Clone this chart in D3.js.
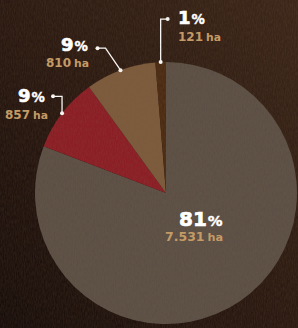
<!DOCTYPE html>
<html><head><meta charset="utf-8">
<script src="https://cdn.jsdelivr.net/npm/d3@7"></script>
<style>html,body{margin:0;padding:0;background:#2a1a12;overflow:hidden}svg{display:block}</style>
</head><body>
<script>
const categories = ["A", "B", "C", "D"];
const hectares = [7531, 857, 810, 121];
const percents = [81, 9, 9, 1];
const colors = ["#5b4f45", "#8b1d25", "#7c5a3c", "#4a2b12"];

const W = 298, H = 328, cx = 166, cy = 193, R = 131;
const svg = d3.select("body").append("svg").attr("width", W).attr("height", H);
const defs = svg.append("defs");
const g0 = defs.append("linearGradient").attr("id","bg").attr("x1","0").attr("y1","1").attr("x2","1").attr("y2","0");
g0.append("stop").attr("offset","0").attr("stop-color","#170d0a");
g0.append("stop").attr("offset","0.5").attr("stop-color","#2a1911");
g0.append("stop").attr("offset","1").attr("stop-color","#3b2619");
const f = defs.append("filter").attr("id","noise").attr("x","0").attr("y","0").attr("width","100%").attr("height","100%");
f.append("feTurbulence").attr("type","fractalNoise").attr("baseFrequency","0.9 0.25").attr("numOctaves",3).attr("seed",4).attr("result","n");
f.append("feColorMatrix").attr("in","n").attr("type","matrix")
 .attr("values","0 0 0 0 0.25  0 0 0 0 0.15  0 0 0 0 0.08  0 0 0 0.45 -0.1");
svg.append("rect").attr("width",W).attr("height",H).attr("fill","url(#bg)");

const fmt = d3.formatLocale({decimal:",", thousands:".", grouping:[3], currency:["",""]}).format(",d");

const pie = d3.pie().sort(null).value(d => d)(hectares);
const arc = d3.arc().innerRadius(0).outerRadius(R);
const gp = svg.append("g").attr("transform", `translate(${cx},${cy})`);
gp.selectAll("path").data(pie).join("path").attr("d", arc).attr("fill", (d,i) => colors[i]);
svg.append("rect").attr("width",W).attr("height",H).attr("filter","url(#noise)").attr("opacity",0.55);

const edge = d => { const a = (d.startAngle + d.endAngle)/2; return [Math.sin(a)*R, -Math.cos(a)*R]; };
const leaders = [
  null,
  {dot:[-9,-17], type:"elbow"},
  {dot:[-23,-22], type:"diag"},
  {dot:[7,-43], type:"elbow"}
];
const white = "#ffffff", tan = "#c49b66";
pie.forEach((d,i) => {
  const L = leaders[i]; if (!L) return;
  const [ex, ey] = edge(d);
  const dx = ex + L.dot[0], dy = ey + L.dot[1];
  let path;
  if (L.type === "elbow") path = `M${ex},${ey}L${ex},${dy}L${dx},${dy}`;
  else path = `M${ex},${ey}L${dx+8},${dy}L${dx},${dy}`;
  gp.append("path").attr("d", path).attr("fill","none").attr("stroke",white).attr("stroke-width",1.3);
  gp.append("circle").attr("cx",ex).attr("cy",ey).attr("r",2).attr("fill",white);
  gp.append("circle").attr("cx",dx).attr("cy",dy).attr("r",2).attr("fill",white);
});

const labelPos = [
  {x1:179, y1:226, x2:165, y2:241, s1:20, s2:12.5},
  {x1:18, y1:102, x2:5, y2:119, s1:18, s2:12},
  {x1:61, y1:51, x2:46, y2:67, s1:18, s2:12},
  {x1:178, y1:24, x2:178, y2:41, s1:18, s2:12}
];
const font = "'DejaVu Sans', sans-serif";
pie.forEach((d,i) => {
  const p = labelPos[i];
  const t1 = svg.append("text").attr("x",p.x1).attr("y",p.y1)
    .attr("font-family",font).attr("font-weight",700).attr("fill",white).attr("font-size",p.s1)
    .attr("stroke",white).attr("stroke-width",0.7);
  t1.append("tspan").text(percents[i]);
  t1.append("tspan").attr("font-size",p.s1*0.74).attr("dx",1).attr("stroke-width",0.4).text("%");
  const t2 = svg.append("text").attr("x",p.x2).attr("y",p.y2)
    .attr("font-family",font).attr("font-weight",700).attr("fill",tan).attr("font-size",p.s2);
  t2.append("tspan").text(fmt(hectares[i]));
  t2.append("tspan").attr("font-size",p.s2*0.9).attr("dx",3).text("ha");
});
</script>
</body></html>
